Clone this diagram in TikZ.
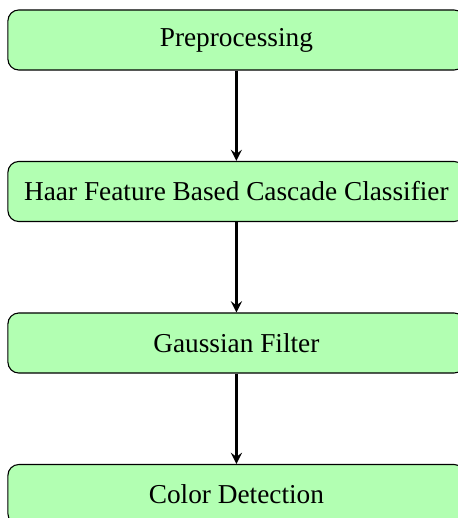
\documentclass[tikz,border=0pt]{standalone}
\usepackage{fontspec}
\setmainfont{Liberation Serif}
\usetikzlibrary{shapes,arrows,positioning}

\begin{document}
\begin{tikzpicture}[
    node distance=55.5pt,
    stage/.style={rectangle, rounded corners, draw=black, minimum width=167.4pt, minimum height=22pt, align=center, fill=green!30},
    arrow/.style={->, >=stealth, thick}
]
% picture frame (cuts the right and bottom edges like the reference)
\clip (-86.6pt,14.65pt) rectangle (81.1pt,-175.1pt);
\useasboundingbox (-86.6pt,14.65pt) rectangle (81.1pt,-175.1pt);

% Pipeline stages
\node[stage] (prep) {Preprocessing};
\node[stage, below of=prep] (haar) {Haar Feature Based Cascade Classifier};
\node[stage, below of=haar] (gauss) {Gaussian Filter};
\node[stage, below of=gauss] (color) {Color Detection};

% Connections
\draw[arrow] (prep) -- (haar);
\draw[arrow] (haar) -- (gauss);
\draw[arrow] (gauss) -- (color);

\end{tikzpicture}
\end{document}
